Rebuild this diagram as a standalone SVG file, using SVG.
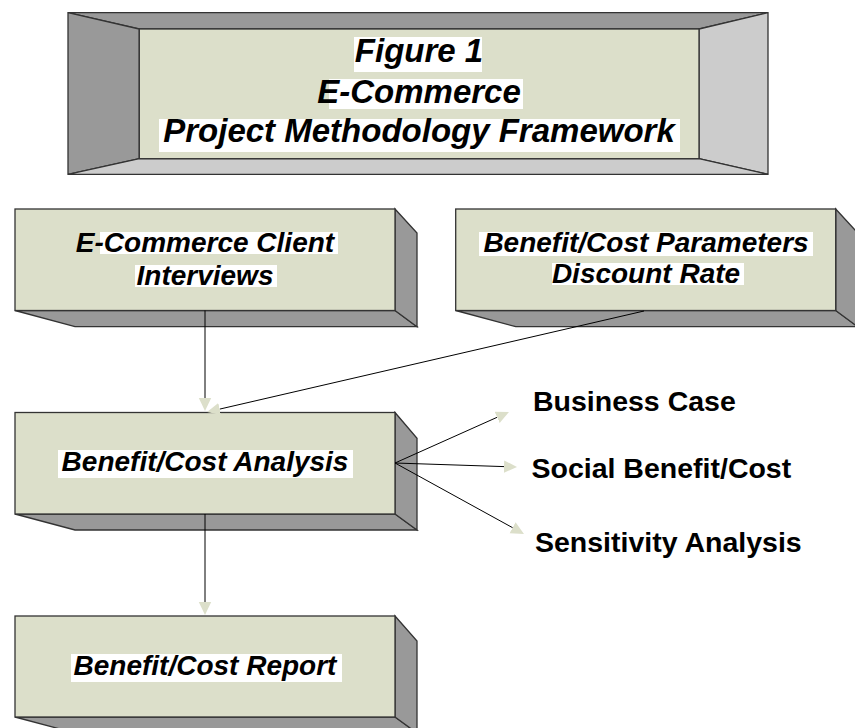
<svg xmlns="http://www.w3.org/2000/svg" width="855" height="728" viewBox="0 0 855 728">
  <style>
    .face { fill: #dcdfca; stroke: #333333; stroke-width: 1.3; stroke-linejoin: miter; }
    .side { fill: #999999; stroke: #333333; stroke-width: 1.3; }
    .light { fill: #cccccc; stroke: #333333; stroke-width: 1.3; }
    .hl { fill: #ffffff; }
    .t { font-family: "Liberation Sans", Arial, sans-serif; font-weight: bold; font-style: italic; fill: #000000; text-anchor: middle; }
    .title { font-size: 33px; }
    .node { font-size: 28px; }
    .out { font-family: "Liberation Sans", Arial, sans-serif; font-weight: bold; font-size: 28.5px; fill: #000000; }
    .conn { stroke: #000000; stroke-width: 1; fill: none; marker-end: url(#ah); }
  </style>
  <defs>
    <marker id="ah" viewBox="0 0 14 14" refX="0" refY="7" markerWidth="14" markerHeight="14" markerUnits="userSpaceOnUse" orient="auto">
      <path d="M0,0.8 L13,7 L0,13.2 z" fill="#dcdfca"/>
    </marker>
  </defs>

  <rect x="0" y="0" width="855" height="728" fill="#ffffff"/>

  <!-- Title panel: recessed frame -->
  <g id="title">
    <polygon class="side" points="68,12.7 768,12.7 699,29 139.3,29"/>
    <polygon class="side" points="68,12.7 139.3,29 139.3,158.7 68,174.3"/>
    <polygon class="light" points="768,12.7 768,174.3 699,158.7 699,29"/>
    <polygon class="light" points="68,174.3 139.3,158.7 699,158.7 768,174.3"/>
    <rect class="face" x="139.3" y="29" width="559.7" height="129.7"/>
    <rect class="hl" x="354" y="37" width="128" height="35"/>
    <rect class="hl" x="329" y="79" width="194" height="30"/>
    <rect class="hl" x="159" y="119" width="521" height="33"/>
    <text class="t title" x="419" y="62.3">Figure 1</text>
    <text class="t title" x="419" y="102.7">E-Commerce</text>
    <text class="t title" x="419" y="142">Project Methodology Framework</text>
  </g>

  <!-- Client interviews -->
  <g id="interviews">
    <polygon class="side" points="15,310.5 395,310.5 417,326.7 75,326.7"/>
    <polygon class="side" points="395,209 417,233 417,326.7 395,310.5"/>
    <rect class="face" x="15" y="209" width="380" height="101.5"/>
    <rect class="hl" x="100" y="232" width="238" height="22"/>
    <rect class="hl" x="135" y="265" width="142" height="22"/>
    <text class="t node" x="205" y="251.5">E-Commerce Client</text>
    <text class="t node" x="205" y="284.5">Interviews</text>
  </g>

  <!-- Parameters -->
  <g id="parameters">
    <polygon class="side" points="455.7,310.5 835.7,310.5 857.7,326.7 515.7,326.7"/>
    <polygon class="side" points="835.7,209 857.7,233 857.7,326.7 835.7,310.5"/>
    <rect class="face" x="455.7" y="209" width="380" height="101.5"/>
    <rect class="hl" x="479" y="232" width="334" height="24"/>
    <rect class="hl" x="552" y="263" width="192" height="22"/>
    <text class="t node" x="646" y="251.5">Benefit/Cost Parameters</text>
    <text class="t node" x="646" y="282.5">Discount Rate</text>
  </g>

  <!-- Analysis -->
  <g id="analysis">
    <polygon class="side" points="15,514 395,514 417,530 75,530"/>
    <polygon class="side" points="395,412.5 417,438.3 417,530 395,514"/>
    <rect class="face" x="15" y="412.5" width="380" height="101.5"/>
    <rect class="hl" x="58" y="450" width="295" height="28"/>
    <text class="t node" x="205" y="470.5">Benefit/Cost Analysis</text>
  </g>

  <!-- Report -->
  <g id="report">
    <polygon class="side" points="15,717 395,717 417,733 75,733"/>
    <polygon class="side" points="395,616 417,641 417,733 395,717"/>
    <rect class="face" x="15" y="616" width="380" height="101"/>
    <rect class="hl" x="71" y="654" width="271" height="28"/>
    <text class="t node" x="205" y="674.5">Benefit/Cost Report</text>
  </g>

  <!-- Outcome labels -->
  <g id="outcomes">
    <text class="out" x="533" y="410.7">Business Case</text>
    <text class="out" x="531.5" y="478.3">Social Benefit/Cost</text>
    <text class="out" x="535" y="551.7">Sensitivity Analysis</text>
  </g>

  <!-- Connectors -->
  <g id="connectors">
    <line class="conn" x1="205" y1="310.5" x2="205" y2="398"/>
    <line class="conn" x1="644" y1="311" x2="219.7" y2="409.1"/>
    <line class="conn" x1="205" y1="514" x2="205" y2="602"/>
    <line class="conn" x1="395" y1="463" x2="497.1" y2="417.3"/>
    <line class="conn" x1="395" y1="463" x2="504" y2="466.6"/>
    <line class="conn" x1="395" y1="463" x2="512.6" y2="527.7"/>
  </g>
</svg>
